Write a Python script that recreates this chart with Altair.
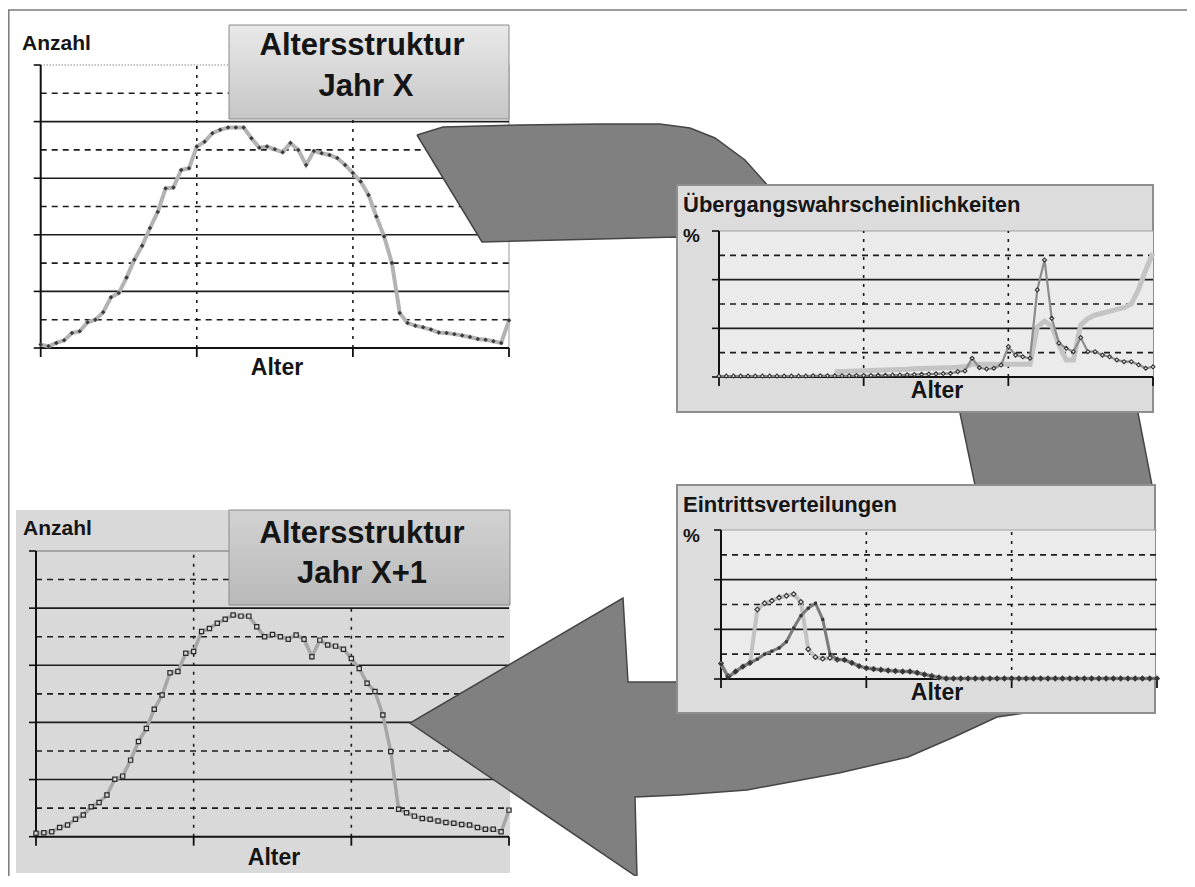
import altair as alt
import pandas as pd

# ---------------- data ----------------
ages = list(range(61))

struktur_jahr_x = [0.12, 0.06, 0.18, 0.27, 0.53, 0.59, 0.91, 1.0, 1.26, 1.79,
                   1.94, 2.49, 3.12, 3.61, 4.24, 4.81, 5.64, 5.67, 6.29, 6.35,
                   7.12, 7.29, 7.59, 7.71, 7.79, 7.79, 7.79, 7.41, 7.08, 7.12,
                   7.02, 6.92, 7.24, 7.0, 6.47, 6.96, 6.88, 6.82, 6.71, 6.47,
                   6.18, 5.88, 5.41, 4.65, 3.94, 3.0, 1.24, 0.88, 0.79, 0.73,
                   0.65, 0.55, 0.53, 0.49, 0.44, 0.39, 0.32, 0.29, 0.24, 0.18,
                   0.98]

struktur_jahr_x1 = [0.12, 0.14, 0.17, 0.32, 0.41, 0.61, 0.76, 1.05, 1.20, 1.46,
                    2.01, 2.12, 2.68, 3.33, 3.79, 4.46, 4.96, 5.74, 5.78, 6.42,
                    6.48, 7.18, 7.29, 7.47, 7.61, 7.76, 7.72, 7.72, 7.35, 7.0,
                    7.08, 7.0, 6.91, 7.06, 6.91, 6.30, 6.88, 6.71, 6.67, 6.56,
                    6.24, 5.89, 5.37, 5.08, 4.26, 2.98, 0.96, 0.84, 0.72, 0.64,
                    0.61, 0.55, 0.50, 0.47, 0.43, 0.41, 0.32, 0.26, 0.26, 0.17,
                    0.93]

uebergang_a = [0.04, 0.04, 0.04, 0.04, 0.04, 0.04, 0.04, 0.04, 0.04, 0.04,
               0.04, 0.04, 0.04, 0.05, 0.05, 0.05, 0.05, 0.05, 0.05, 0.06,
               0.06, 0.06, 0.07, 0.07, 0.08, 0.08, 0.09, 0.10, 0.11, 0.12,
               0.13, 0.14, 0.15, 0.22, 0.25, 0.77, 0.38, 0.33, 0.36, 0.49,
               1.25, 0.90, 0.83, 0.77, 3.58, 4.81, 2.41, 1.39, 1.18, 1.04,
               1.62, 1.04, 1.04, 0.90, 0.83, 0.70, 0.63, 0.63, 0.50, 0.36,
               0.42]

uebergang_b_ages = [16, 17, 18, 19, 20, 21, 22, 23, 24, 25, 26, 27, 28, 29, 30,
                    31, 32, 33, 34, 35, 36, 37, 38, 39, 40, 41, 42, 43, 44, 45,
                    46, 47, 48, 49, 50, 51, 52, 53, 54, 55, 56, 57, 58, 59, 60]
uebergang_b = [0.22, 0.23, 0.24, 0.25, 0.26, 0.27, 0.28, 0.29, 0.30, 0.31,
               0.32, 0.34, 0.35, 0.36, 0.37, 0.38, 0.38, 0.40, 0.42, 0.52,
               0.52, 0.52, 0.52, 0.52, 0.52, 0.52, 0.52, 0.52, 2.05, 2.30,
               2.10, 1.30, 0.70, 0.70, 2.14, 2.40, 2.55, 2.62, 2.70, 2.78,
               2.85, 3.00, 3.60, 4.40, 5.10]

eintritt_a = [0.63, 0.10, 0.30, 0.50, 0.65, 2.80, 3.05, 3.15, 3.28, 3.35,
              3.42, 3.10, 1.20, 0.88, 0.82, 0.85, 0.78, 0.77, 0.65, 0.52,
              0.44, 0.40, 0.37, 0.34, 0.32, 0.30, 0.30, 0.25, 0.18, 0.12,
              0.06, 0.02, 0.02, 0.02, 0.02, 0.02, 0.02, 0.02, 0.02, 0.02,
              0.02, 0.02, 0.02, 0.02, 0.02, 0.02, 0.02, 0.02, 0.02, 0.02,
              0.02, 0.02, 0.02, 0.02, 0.02, 0.02, 0.02, 0.02, 0.02, 0.02,
              0.02]

eintritt_b = [0.60, 0.07, 0.30, 0.50, 0.65, 0.80, 1.00, 1.12, 1.25, 1.50,
              2.05, 2.55, 2.85, 3.05, 2.40, 1.00, 0.80, 0.77, 0.65, 0.52,
              0.44, 0.40, 0.37, 0.34, 0.32, 0.30, 0.30, 0.25, 0.18, 0.12,
              0.06, 0.02, 0.02, 0.02, 0.02, 0.02, 0.02, 0.02, 0.02, 0.02,
              0.02, 0.02, 0.02, 0.02, 0.02, 0.02, 0.02, 0.02, 0.02, 0.02,
              0.02, 0.02, 0.02, 0.02, 0.02, 0.02, 0.02, 0.02, 0.02, 0.02,
              0.02]

anzahl_major = [0, 2, 4, 6, 8, 10]
anzahl_minor = [1, 3, 5, 7, 9]
pct_major = [0, 2, 4, 6]
pct_minor = [1, 3, 5]
alter_ticks = [0, 20, 40, 60]
alter_grid = [20, 40]

# decorative circular arrow outline (picture coordinates)
arrow_x = [417, 443, 520, 600, 660, 690, 715, 745, 770, 850, 950, 1050, 1110, 1138,
           1152, 1153, 1148, 1130, 1090, 1040, 997, 954, 908, 839, 747, 680, 635,
           637, 410, 623, 628, 681, 780, 880, 940, 968, 975, 960, 930, 880, 800,
           740, 677, 600, 482, 417]
arrow_y = [135, 127, 125, 124, 124, 128, 138, 160, 188, 200, 230, 290, 350, 413,
           485, 540, 600, 650, 695, 711, 717, 737, 757, 773, 790, 795, 797,
           877, 723, 598, 682, 682, 682, 672, 640, 580, 485, 413, 340, 290, 255,
           240, 237, 239, 242, 135]

W, H = 1179, 868
FONT = "Liberation Sans"


def V(p):
    return p - 8


def one():
    return pd.DataFrame({"k": [0]})


def rect(x1, y1, x2, y2, **kw):
    return alt.Chart(one()).mark_rect(**kw).encode(
        x=alt.value(V(x1)), x2=alt.value(V(x2)), y=alt.value(V(y1)), y2=alt.value(V(y2)))


def label(t, x, y, size, align="left"):
    return alt.Chart(pd.DataFrame({"t": [t]})).mark_text(
        align=align, baseline="alphabetic", fontSize=size, fontWeight="bold",
        font=FONT, color="#151515").encode(x=alt.value(V(x)), y=alt.value(V(y)), text="t:N")


def panel(ax_x, ax_y, right, top, ymax, major, minor, series, top_style=None, right_border=False):
    xs = alt.Scale(domain=[0, 60], range=[V(ax_x), V(right)], nice=False, zero=False)
    ys = alt.Scale(domain=[0, ymax], range=[V(ax_y), V(top)], nice=False, zero=False)
    X = lambda f: alt.X(f, scale=xs, axis=None)
    Y = lambda f: alt.Y(f, scale=ys, axis=None)
    layers = []
    if top_style is not None:
        layers.append(alt.Chart(pd.DataFrame({"v": [ymax], "x0": [0], "x1": [60]})).mark_rule(**top_style)
                      .encode(x=X("x0:Q"), x2="x1:Q", y=Y("v:Q")))
    if right_border:
        layers.append(alt.Chart(pd.DataFrame({"v": [60], "y0": [0], "y1": [ymax]})).mark_rule(
            color="#9a9a9a", strokeWidth=1).encode(x=X("v:Q"), y=Y("y0:Q"), y2="y1:Q"))
    layers.append(alt.Chart(pd.DataFrame({"v": minor, "x0": 0, "x1": 60})).mark_rule(
        color="#1c1c1c", strokeWidth=1.6, strokeDash=[6, 5]).encode(x=X("x0:Q"), x2="x1:Q", y=Y("v:Q")))
    layers.append(alt.Chart(pd.DataFrame({"v": alter_grid, "y0": 0, "y1": ymax})).mark_rule(
        color="#1c1c1c", strokeWidth=1.6, strokeDash=[3, 6]).encode(x=X("v:Q"), y=Y("y0:Q"), y2="y1:Q"))
    layers.append(alt.Chart(pd.DataFrame({"v": major[1:-1] if top_style is not None else major[1:], "x0": 0, "x1": 60})).mark_rule(
        color="#1c1c1c", strokeWidth=1.6).encode(x=X("x0:Q"), x2="x1:Q", y=Y("v:Q")))
    # axis lines and ticks
    layers.append(alt.Chart(pd.DataFrame({"v": [0], "x0": [0], "x1": [60]})).mark_rule(
        color="#111", strokeWidth=2).encode(x=X("x0:Q"), x2="x1:Q", y=Y("v:Q")))
    layers.append(alt.Chart(pd.DataFrame({"v": [0], "y0": [0], "y1": [ymax]})).mark_rule(
        color="#111", strokeWidth=2).encode(x=X("v:Q"), y=Y("y0:Q"), y2="y1:Q"))
    layers.append(alt.Chart(pd.DataFrame({"v": major})).mark_rule(color="#111", strokeWidth=1.6).encode(
        x=alt.value(V(ax_x) - 7), x2=alt.value(V(ax_x)), y=Y("v:Q")))
    layers.append(alt.Chart(pd.DataFrame({"v": alter_ticks})).mark_rule(color="#111", strokeWidth=1.8).encode(
        x=X("v:Q"), y=alt.value(V(ax_y)), y2=alt.value(V(ax_y) + 9)))
    for s in series:
        layers.append(s(X, Y))
    return alt.layer(*layers)


def line_series(xv, yv, color, width):
    df = pd.DataFrame({"x": xv, "y": yv})
    return lambda X, Y: alt.Chart(df).mark_line(color=color, strokeWidth=width).encode(x=X("x:Q"), y=Y("y:Q"))


def point_series(xv, yv, **kw):
    df = pd.DataFrame({"x": xv, "y": yv})
    return lambda X, Y: alt.Chart(df).mark_point(opacity=1, **kw).encode(x=X("x:Q"), y=Y("y:Q"))


# ---------------- panels ----------------
p1 = panel(40.7, 348, 509, 65, 10, anzahl_major, anzahl_minor, [
    line_series(ages, struktur_jahr_x, "#b3b3b3", 4),
    point_series(ages, struktur_jahr_x, shape="diamond", filled=True, color="#3a3a3a", size=20),
], top_style=dict(color="#555", strokeWidth=1.2, strokeDash=[1, 2]), right_border=True)

p4 = panel(36, 836.7, 509, 551, 10, anzahl_major, anzahl_minor, [
    line_series(ages, struktur_jahr_x1, "#a6a6a6", 3.5),
    point_series(ages, struktur_jahr_x1, shape="square", filled=True, fill="#d4d4d4",
                 stroke="#2a2a2a", strokeWidth=1.2, size=18),
], top_style=dict(color="#707070", strokeWidth=1.2))

p2 = panel(719, 377, 1153, 231, 6, pct_major, pct_minor, [
    line_series(uebergang_b_ages, uebergang_b, "#c4c4c4", 5),
    line_series(ages, uebergang_a, "#8c8c8c", 2.2),
    point_series(ages, uebergang_a, shape="diamond", filled=True, fill="#e4e4e4",
                 stroke="#333", strokeWidth=1.1, size=16),
], top_style=dict(color="#a0a0a0", strokeWidth=1))

p3 = panel(721, 679, 1157, 530, 6, pct_major, pct_minor, [
    line_series(ages, eintritt_a, "#c2c2c2", 4),
    line_series(ages, eintritt_b, "#7a7a7a", 3),
    point_series(ages, eintritt_a, shape="diamond", filled=True, fill="#e6e6e6",
                 stroke="#3a3a3a", strokeWidth=1.2, size=22),
    point_series(ages, eintritt_b, shape="square", filled=True, color="#333", size=9),
], top_style=dict(color="#a0a0a0", strokeWidth=1))

# ---------------- decoration ----------------
canvas_x = alt.Scale(domain=[8, 8 + W], range=[0, W], nice=False, zero=False)
canvas_y = alt.Scale(domain=[8, 8 + H], range=[0, H], nice=False, zero=False)
arrow_df = pd.DataFrame({"i": list(range(len(arrow_x))), "x": arrow_x, "y": arrow_y})
arrow = alt.Chart(arrow_df).mark_line(filled=True, fill="#808080", stroke="#454545",
                                      strokeWidth=1.5).encode(
    x=alt.X("x:Q", scale=canvas_x, axis=None), y=alt.Y("y:Q", scale=canvas_y, axis=None),
    order="i:Q")

grad1 = alt.Gradient(gradient="linear", x1=0, x2=0, y1=0, y2=1,
                     stops=[alt.GradientStop(color="#e9e9e9", offset=0),
                            alt.GradientStop(color="#c6c6c6", offset=1)])
grad4 = alt.Gradient(gradient="linear", x1=0, x2=0, y1=0, y2=1,
                     stops=[alt.GradientStop(color="#d2d2d2", offset=0),
                            alt.GradientStop(color="#b9b9b9", offset=1)])

frame_top = alt.Chart(one()).mark_rule(color="#7a7a7a", strokeWidth=1.5).encode(
    x=alt.value(0), x2=alt.value(W), y=alt.value(V(10)))
frame_left = alt.Chart(one()).mark_rule(color="#7a7a7a", strokeWidth=1.5).encode(
    x=alt.value(0.8), y=alt.value(V(10)), y2=alt.value(H))

layers = [
    frame_top, frame_left,
    rect(16, 510, 510, 873, fill="#d9d9d9"),
    p1, p4,
    rect(229, 25, 509, 119, fill=grad1, stroke="#8a8a8a", strokeWidth=1),
    rect(229, 510, 510, 605, fill=grad4, stroke="#8a8a8a", strokeWidth=1),
    label("Anzahl", 22, 50, 21), label("Altersstruktur", 362, 55, 31, "center"),
    label("Jahr X", 366, 96, 31, "center"), label("Alter", 277, 375, 23, "center"),
    label("Anzahl", 23, 535, 21), label("Altersstruktur", 362, 543, 31, "center"),
    label("Jahr X+1", 362, 583, 31, "center"), label("Alter", 274, 865, 23, "center"),
    arrow,
    rect(677, 185, 1153, 412, fill="#dcdcdc", stroke="#8e8e8e", strokeWidth=2),
    rect(719, 231, 1153, 377, fill="#ebebeb"),
    p2,
    label("Übergangswahrscheinlichkeiten", 683, 212, 22), label("%", 683, 242, 19),
    label("Alter", 937, 398, 23, "center"),
    rect(677, 485, 1155, 713, fill="#dcdcdc", stroke="#8e8e8e", strokeWidth=2),
    rect(721, 530, 1155, 679, fill="#ebebeb"),
    p3,
    label("Eintrittsverteilungen", 683, 512, 22), label("%", 683, 542, 19),
    label("Alter", 937, 700, 23, "center"),
]

chart = alt.layer(*layers).resolve_scale(x="independent", y="independent").properties(
    width=W, height=H, padding=0, autosize="none", background="white"
).configure_view(strokeWidth=0)

chart.save("out.html", embed_options={"renderer": "svg", "actions": False})
